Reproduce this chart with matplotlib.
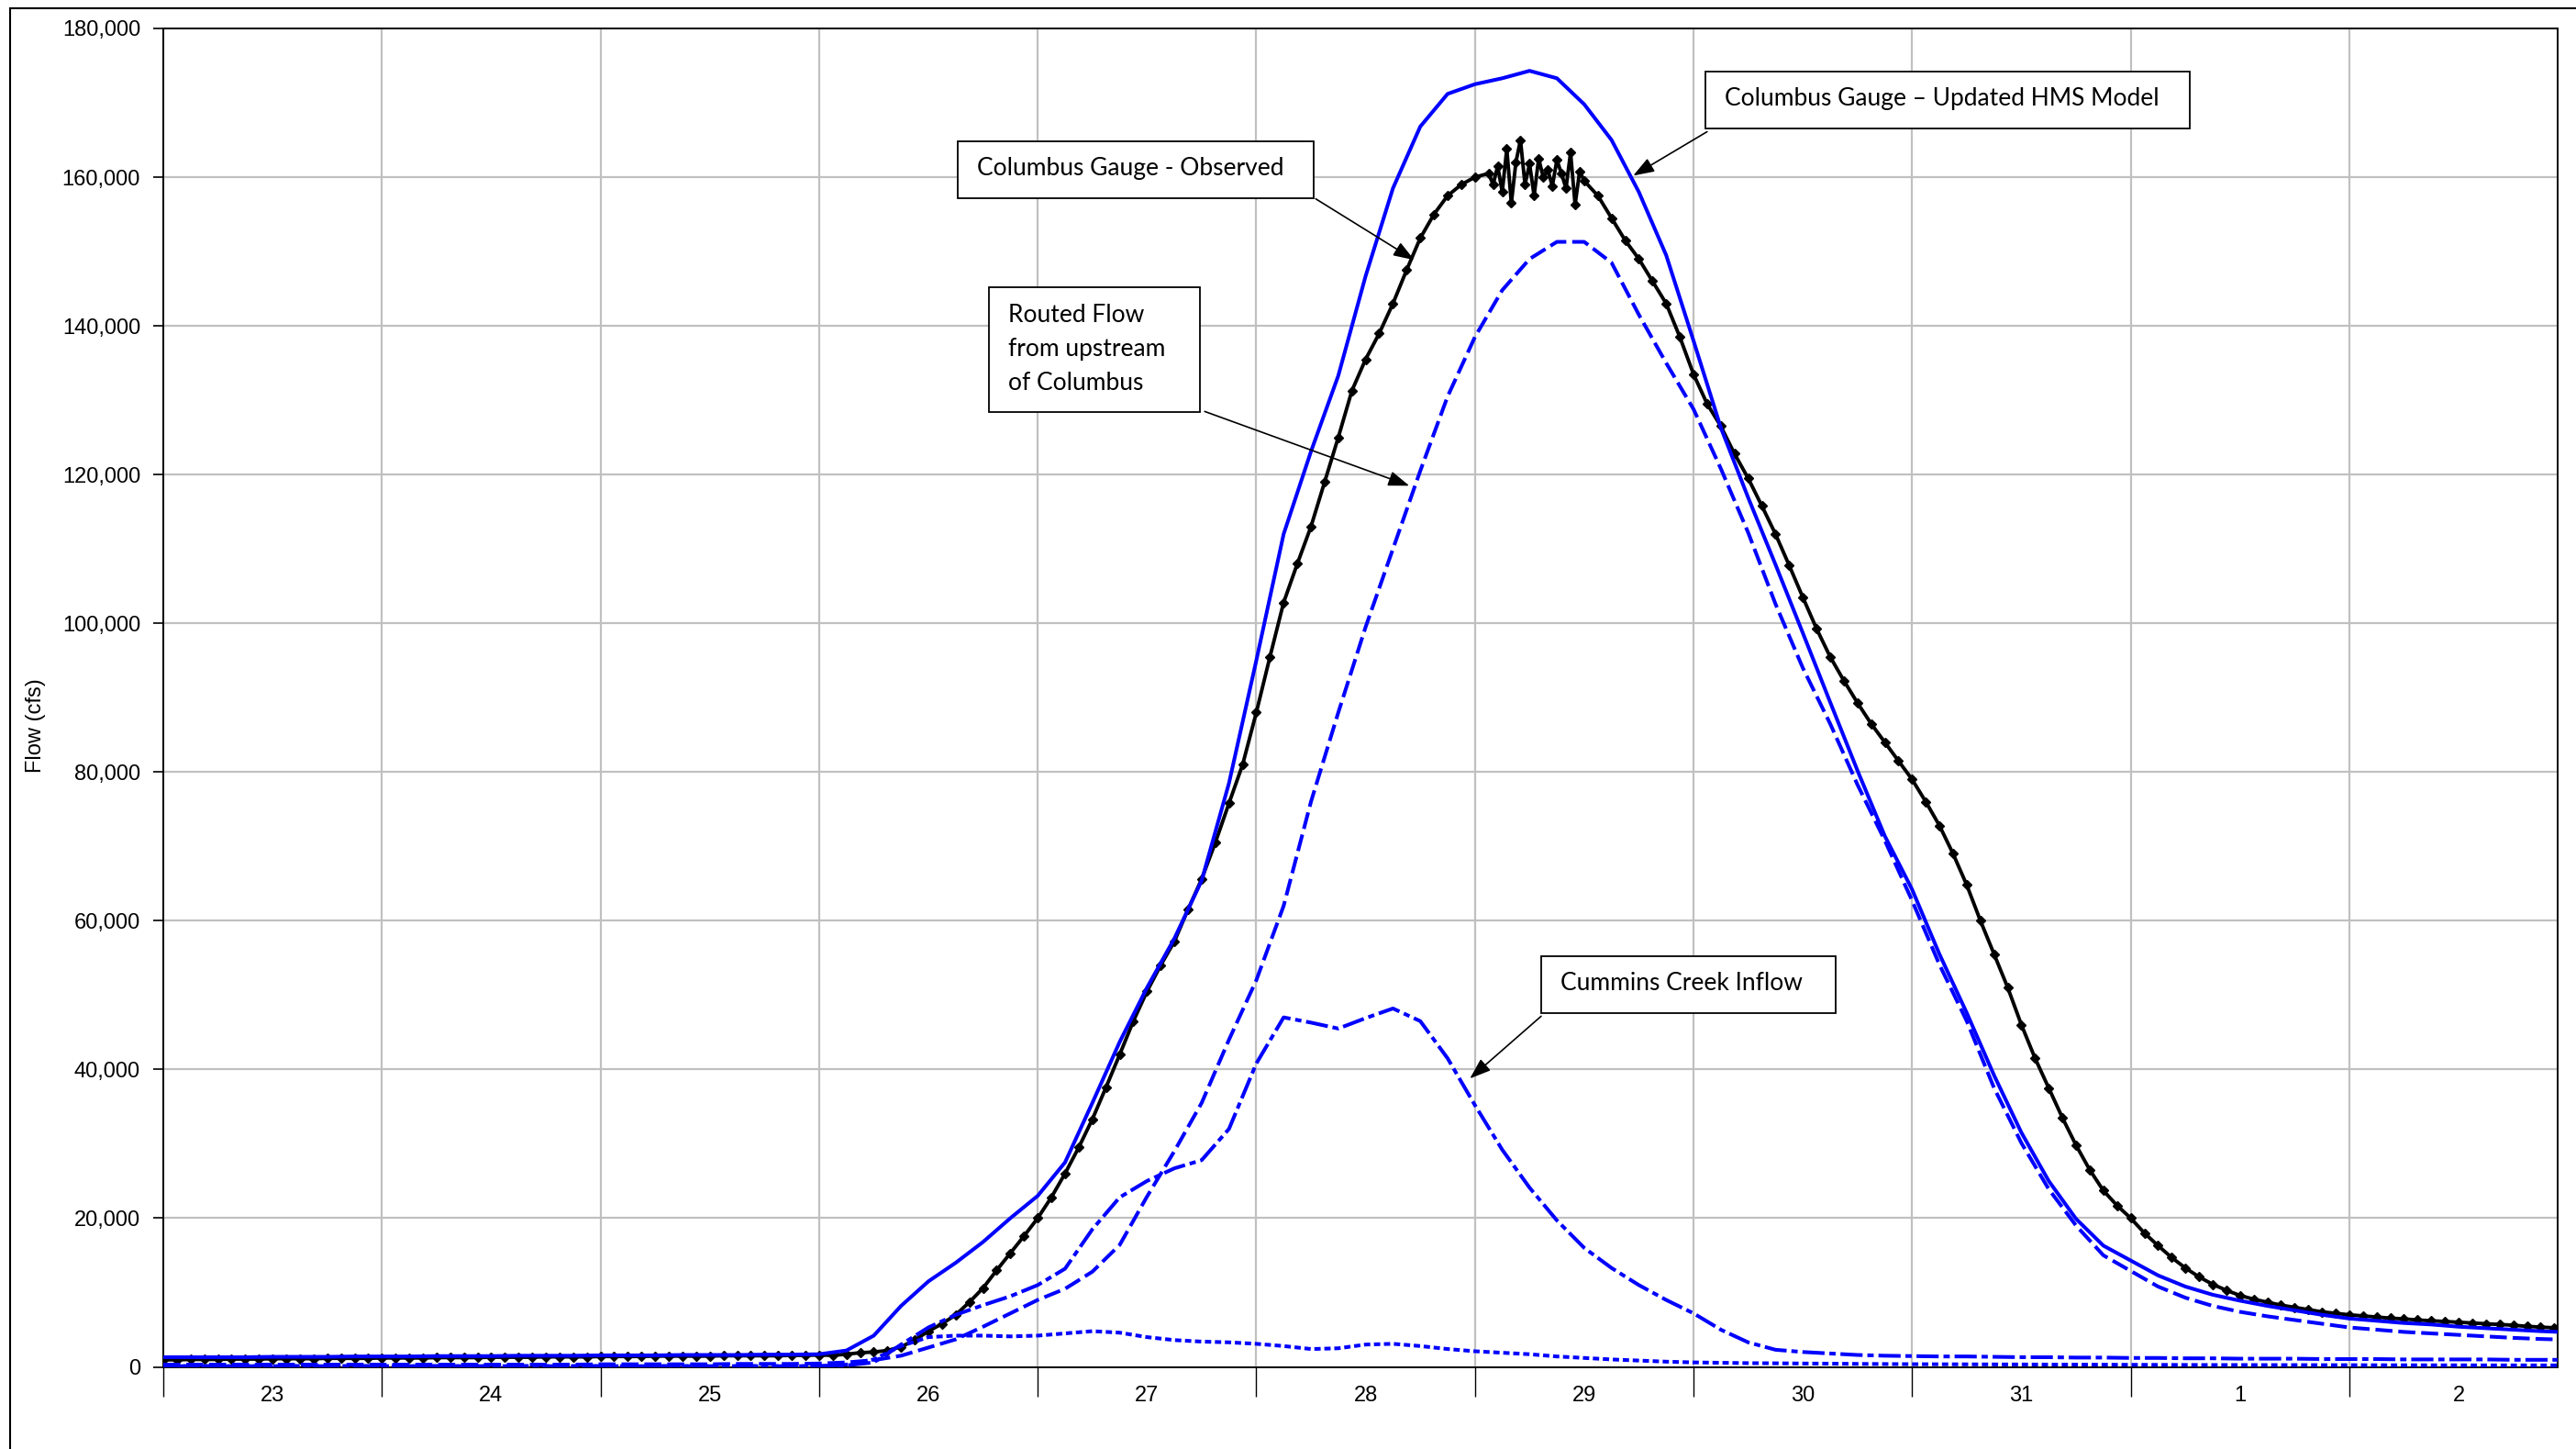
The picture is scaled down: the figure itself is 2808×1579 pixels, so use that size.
import numpy as np
import matplotlib
matplotlib.use('Agg')
import matplotlib.pyplot as plt
from matplotlib.patches import Rectangle
from matplotlib.ticker import FuncFormatter

# x axis is days since 23 March 00:00, one label per day
day_labels = ['23', '24', '25', '26', '27', '28', '29', '30', '31', '1', '2']

# modelled hydrographs (cfs), every 3 hours from t = 0 to t = 11 days
hms_model = [1300, 1300, 1300, 1300, 1350, 1350, 1350, 1400,
             1400, 1400, 1450, 1450, 1450, 1500, 1500, 1500,
             1550, 1550, 1550, 1600, 1600, 1600, 1650, 1650,
             1700, 2200, 4200, 8200, 11500, 14000, 16800, 20000,
             23000, 27500, 35500, 43700, 51000, 57600, 65400, 78500,
             95000, 112000, 123100, 133300, 146700, 158500, 166800, 171200,
             172500, 173300, 174300, 173300, 169800, 165000, 158000, 149500,
             138000, 126300, 116900, 107900, 98700, 89400, 80200, 71400,
             64200, 55500, 47600, 39200, 31500, 25000, 19900, 16300,
             14300, 12300, 10800, 9700, 8900, 8200, 7600, 7000,
             6500, 6200, 5900, 5700, 5400, 5200, 5000, 4800,
             4650]

routed_flow = [300, 300, 300, 300, 300, 300, 300, 300,
               300, 300, 300, 300, 300, 300, 300, 300,
               350, 350, 350, 350, 350, 400, 400, 400,
               450, 600, 900, 1500, 2600, 3700, 5400, 7200,
               9000, 10500, 12800, 16400, 22900, 29000, 35500, 44000,
               52000, 62000, 76000, 88000, 99500, 110000, 120500, 130500,
               138500, 144800, 149000, 151300, 151300, 148500, 141500, 135000,
               128800, 120800, 112200, 102600, 94000, 86500, 78300, 70800,
               62700, 54100, 46500, 37500, 30100, 23900, 19000, 15000,
               12900, 10800, 9300, 8200, 7400, 6800, 6300, 5800,
               5300, 5000, 4700, 4500, 4300, 4100, 3900, 3750,
               3650]

cummins_creek = [100, 100, 100, 100, 100, 100, 100, 100,
                 100, 100, 100, 100, 100, 100, 100, 100,
                 100, 100, 100, 100, 100, 100, 100, 100,
                 100, 200, 600, 3000, 5300, 7000, 8300, 9500,
                 11000, 13200, 18500, 22800, 25000, 26700, 27800, 32000,
                 40800, 47000, 46300, 45500, 46900, 48200, 46500, 41500,
                 35200, 29200, 24100, 19700, 16000, 13300, 11000, 9000,
                 7200, 5000, 3300, 2300, 2000, 1800, 1600, 1500,
                 1450, 1400, 1400, 1350, 1300, 1300, 1250, 1250,
                 1200, 1200, 1150, 1150, 1100, 1100, 1100, 1050,
                 1050, 1050, 1000, 1000, 1000, 1000, 950, 950,
                 950]

local_inflow = [100, 100, 100, 100, 100, 100, 100, 100,
                100, 100, 100, 100, 100, 100, 100, 100,
                100, 100, 100, 100, 100, 100, 100, 100,
                100, 300, 1000, 2800, 4000, 4200, 4200, 4100,
                4200, 4500, 4800, 4600, 4000, 3600, 3400, 3300,
                3100, 2800, 2400, 2500, 3000, 3100, 2800, 2400,
                2100, 1900, 1700, 1400, 1200, 1000, 850, 700,
                600, 550, 500, 480, 450, 430, 400, 380,
                360, 350, 340, 330, 320, 310, 300, 290,
                280, 270, 260, 250, 250, 240, 240, 230,
                230, 220, 220, 210, 210, 200, 200, 200,
                200]

# observed gauge (cfs): every 1.5 h up to t = 6.0
obs_rise = [950, 950, 1000, 1000, 1000, 1050, 1050, 1050, 1100, 1100, 1100, 1100, 1150, 1150, 1150, 1150,
            1200, 1200, 1200, 1200, 1250, 1250, 1250, 1250, 1300, 1300, 1300, 1300, 1350, 1350, 1350, 1350,
            1400, 1400, 1400, 1400, 1450, 1450, 1450, 1450, 1450, 1500, 1500, 1500, 1500, 1500, 1550, 1550,
            1600, 1550, 1700, 1900, 2000, 2200, 2700, 3600, 4800, 5800, 7000, 8700, 10600, 13000, 15300, 17600,
            20000, 22800, 26000, 29500, 33300, 37600, 42000, 46500, 50500, 54000, 57200, 61500, 65600, 70500, 75800, 81000,
            88000, 95500, 102800, 108000, 113000, 119000, 125000, 131300, 135500, 139000, 143000, 147500, 151800, 155000, 157500, 159000,
            160000]
# noisy crest, every 30 min from t = 6.0625
obs_crest = [160500, 159000, 161500, 158000, 163800, 156500, 162000, 165000, 159000, 161800, 157500,
             162500, 160000, 161000, 158800, 162300, 160500, 158500, 163300, 156300, 160800]
# recession, every 1.5 h from t = 6.5
obs_fall = [159500, 157500, 154500, 151500, 149000, 146000, 143000, 138500,
            133500, 129500, 126500, 122800, 119500, 115800, 112000, 107800, 103500, 99300, 95500, 92300, 89300, 86500, 84000, 81500,
            79000, 76000, 72800, 69000, 64800, 60000, 55500, 51000, 46000, 41500, 37500, 33500, 29800, 26500, 23700, 21700,
            20000, 18000, 16300, 14700, 13300, 12100, 11100, 10300, 9600, 9100, 8700, 8300, 8000, 7700, 7400, 7200,
            7000, 6850, 6700, 6550, 6450, 6300, 6200, 6100, 6000, 5900, 5800, 5700, 5600, 5450, 5350, 5250,
            5100]

t_model = np.arange(len(hms_model)) * 0.125
t_obs = np.concatenate([np.arange(len(obs_rise)) / 16,
                        6.0625 + np.arange(len(obs_crest)) / 48,
                        6.5 + np.arange(len(obs_fall)) / 16])
q_obs = np.concatenate([obs_rise, obs_crest, obs_fall])

plt.rcParams['font.family'] = ['Liberation Sans', 'DejaVu Sans']

W, H = 2808, 1579
fig = plt.figure(figsize=(W / 100, H / 100), dpi=100)
ax = fig.add_axes([178 / W, 1 - 1489.5 / H, (2788 - 178) / W, (1489.5 - 31) / H])

blue = '#0000FF'
ax.plot(t_obs, q_obs, color='black', lw=2.8, marker='D', ms=5.5, zorder=3)
ax.plot(t_model, local_inflow, color=blue, lw=2.9, dashes=(1.7, 1.0), zorder=4)
ax.plot(t_model, cummins_creek, color=blue, lw=2.9, dashes=(6, 1.3, 1.7, 1.3), zorder=4)
ax.plot(t_model, routed_flow, color=blue, lw=2.9, dashes=(4.6, 1.6), zorder=4)
ax.plot(t_model, hms_model, color=blue, lw=2.9, zorder=5)

ax.set_xlim(0, 10.953)
ax.set_ylim(0, 180000)

ax.set_xticks(np.arange(0, 11))
ax.set_xticklabels([])
ax.set_xticks(np.arange(len(day_labels)) + 0.5, minor=True)
ax.set_xticklabels(day_labels, minor=True)
ax.tick_params(axis='x', which='major', length=23, width=1, direction='out')
ax.tick_params(axis='x', which='minor', length=0, pad=15, labelsize=17)

ax.set_yticks(np.arange(0, 180001, 20000))
ax.yaxis.set_major_formatter(FuncFormatter(lambda v, p: '{:,.0f}'.format(v)))
ax.tick_params(axis='y', length=8, width=1.2, pad=10, labelsize=17)

ax.grid(True, which='major', color='#C0C0C0', lw=1.6)
ax.set_axisbelow(True)
for s in ax.spines.values():
    s.set_linewidth(1.4)
    s.set_color('black')

fig.text(39.5 / W, 1 - 791 / H, 'Flow (cfs)', rotation=90, ha='center', va='center', fontsize=17)

# outer frame of the chart area
fig.patches.append(Rectangle((11 / W, -0.1), 1.2, 1.1 - 9 / H, transform=fig.transFigure,
                             fill=False, edgecolor='black', lw=1.5))

# callout boxes: (x0, x1, y0, y1), text anchor, arrow start, arrow tip
callouts = [
    ((3.636, 5.264, 157200, 164850), (3.724, 161150), 'Columbus Gauge - Observed',
     (5.272, 157080), (5.723, 148860)),
    ((3.778, 4.741, 128370, 145250), (3.866, 136830), 'Routed Flow\nfrom upstream\nof Columbus',
     (4.764, 128490), (5.70, 118500)),
    ((7.055, 9.271, 166600, 174250), (7.143, 170510), 'Columbus Gauge \u2013 Updated HMS Model',
     (7.062, 166110), (6.724, 160200)),
    ((6.303, 7.651, 47530, 55210), (6.393, 51600), 'Cummins Creek Inflow',
     (6.303, 47160), (5.977, 38780)),
]
for (x0, x1, y0, y1), (tx, ty), label, start, tip in callouts:
    ax.add_patch(Rectangle((x0, y0), x1 - x0, y1 - y0, facecolor='white', edgecolor='black',
                           lw=1.3, zorder=6))
    ax.text(tx, ty, label, family='Lato', fontsize=19, ha='left', va='center',
            linespacing=1.6, zorder=7)
    ax.annotate('', xy=tip, xytext=start,
                arrowprops=dict(arrowstyle='-|>,head_length=0.7,head_width=0.25', color='black',
                                lw=1.2, shrinkA=0, shrinkB=0, mutation_scale=20), zorder=7)

fig.savefig('out.png', dpi=100)
